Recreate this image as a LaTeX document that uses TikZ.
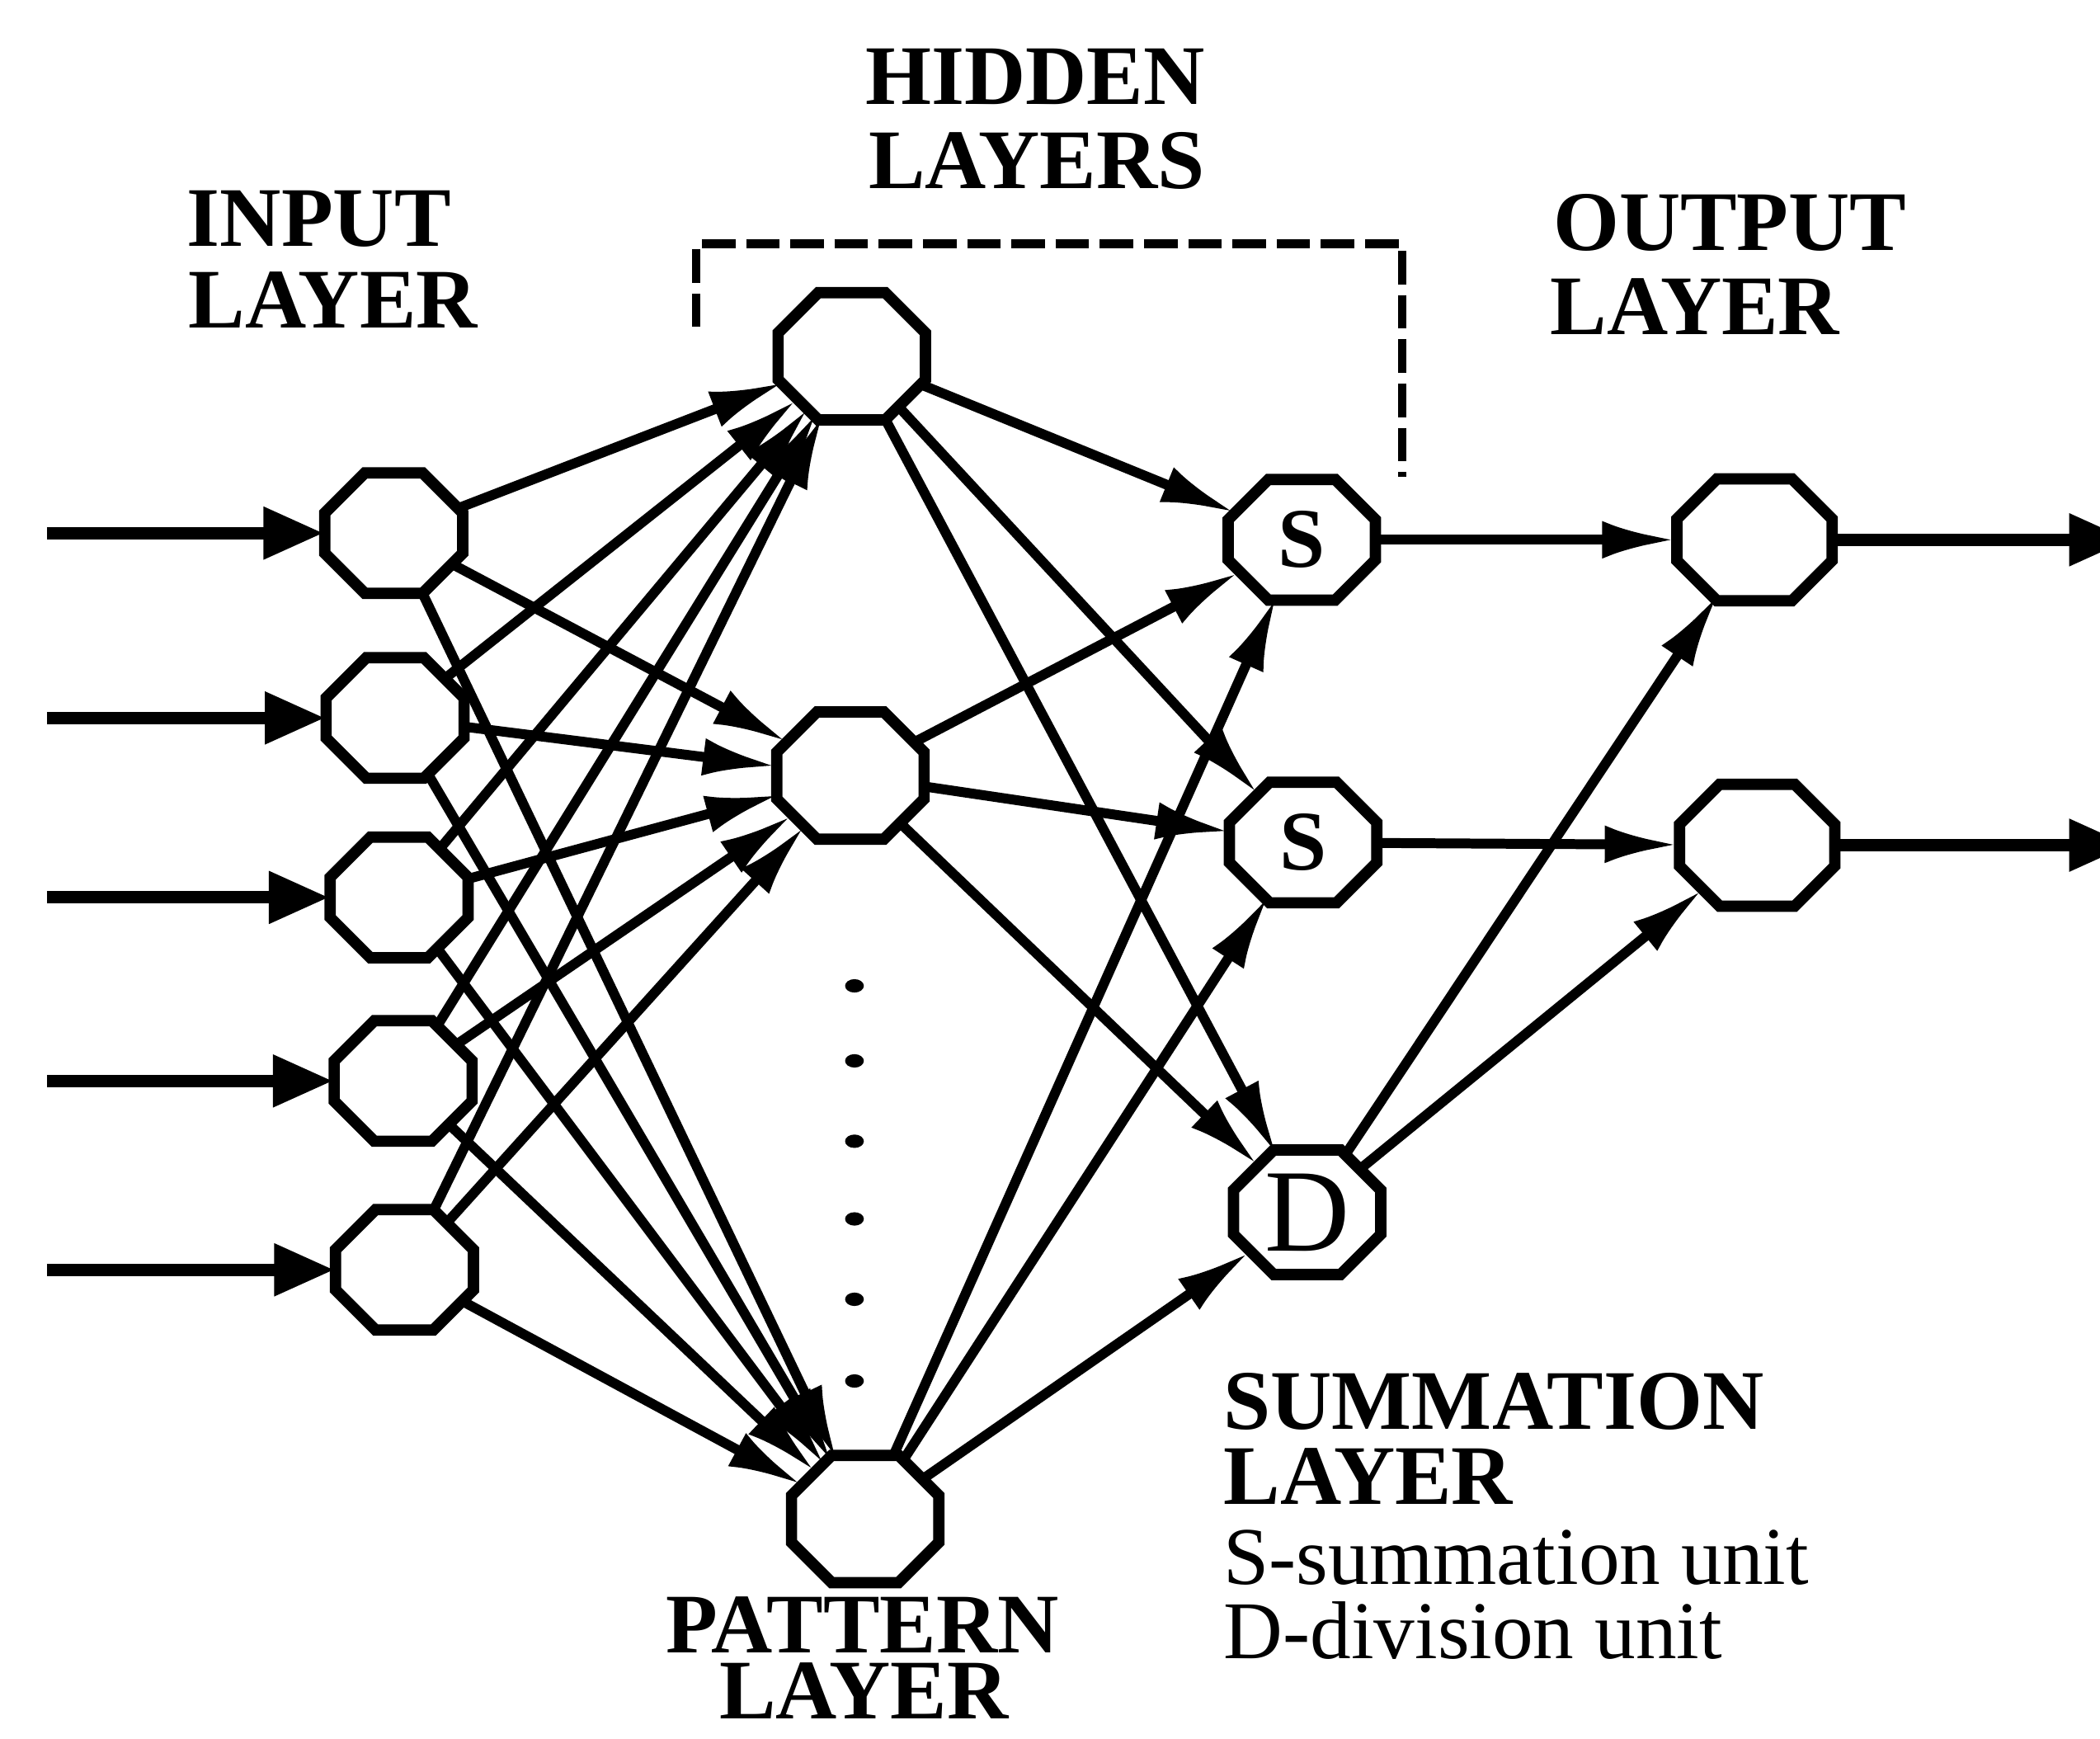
\documentclass[tikz,border=0pt]{standalone}
\usepackage{fontspec}
\setmainfont{Liberation Serif}
\usetikzlibrary{arrows.meta,shapes.geometric}
\begin{document}
\begin{tikzpicture}[x=0.01cm,y=-0.01cm,
  unitbase/.style={ellipse, draw=none, inner sep=0pt},
  inunit/.style={unitbase, minimum width=1.03cm, minimum height=0.90cm},
  patunit/.style={unitbase, minimum width=1.10cm, minimum height=0.95cm},
  sumunit/.style={unitbase, minimum width=1.10cm, minimum height=0.90cm},
  outunit/.style={unitbase, minimum width=1.16cm, minimum height=0.91cm},
  octline/.style={line width=2.4pt, line join=miter},
  conn/.style={line width=2.1pt, -{Latex[length=0.55cm,width=0.28cm]}},
  ioarrow/.style={line width=2.6pt, -{Triangle[length=0.45cm,width=0.37cm]}},
  bracketline/.style={line width=1.8pt, dash pattern=on 0.25cm off 0.08cm},
  hdr/.style={inner sep=0pt, font=\fontsize{18}{18}\selectfont\bfseries},
  subtxt/.style={inner sep=0pt, font=\fontsize{17.4}{18}\selectfont},
  unitletter/.style={font=\fontsize{18}{18}\selectfont\bfseries},
  dletter/.style={font=\fontsize{25}{25}\selectfont}
]
\useasboundingbox (0,0) rectangle (1568,1298);

% input layer
\node[inunit] (i1) at (294,398) {};
\node[inunit] (i2) at (295,536) {};
\node[inunit] (i3) at (298,670) {};
\node[inunit] (i4) at (301,807) {};
\node[inunit] (i5) at (302,948) {};
\coordinate (a1) at (35,398);
\coordinate (a2) at (35,536);
\coordinate (a3) at (35,670);
\coordinate (a4) at (35,807);
\coordinate (a5) at (35,948);

% pattern layer
\node[patunit] (p1) at (636,266) {};
\node[patunit] (p2) at (635,579) {};
\node[patunit] (p3) at (646,1134) {};

% summation layer
\node[sumunit, label={[unitletter]center:S}] (s1) at (972,403) {};
\node[sumunit, label={[unitletter]center:S}] (s2) at (973,629) {};
\node[sumunit, minimum height=0.93cm, label={[dletter]center:D}] (d) at (976,905) {};

% output layer
\node[outunit] (o1) at (1310,403) {};
\node[outunit] (o2) at (1312,631) {};
\coordinate (e1) at (1590,403);
\coordinate (e2) at (1590,631);

% octagonal outlines of the units
\foreach \n/\a/\b in {i1/51.5/45, i2/51.5/45, i3/51.5/45, i4/51.5/45, i5/51.5/45,
                      p1/55/47.5, p2/55/47.5, p3/55/47.5,
                      s1/55/45, s2/55/45, d/55/46.5,
                      o1/58/45.5, o2/58/45.5}
  \draw[octline, shift={(\n.center)}]
    (-\a+30,-\b) -- (\a-30,-\b) -- (\a,-\b+30) -- (\a,\b-30) --
    (\a-30,\b) -- (-\a+30,\b) -- (-\a,\b-30) -- (-\a,-\b+30) -- cycle;

% input arrows
\foreach \k in {1,...,5} \draw[ioarrow] (a\k) -- (i\k);
% output arrows
\draw[ioarrow] (o1) -- (e1);
\draw[ioarrow] (o2) -- (e2);

% input -> pattern
\foreach \a in {i1,i2,i3,i4,i5}
  \foreach \b in {p1,p2,p3}
    \draw[conn] (\a) -- (\b);

% pattern -> summation
\foreach \a in {p1,p2,p3}
  \foreach \b in {s1,s2,d}
    \draw[conn] (\a) -- (\b);

% summation -> output
\draw[conn] (s1) -- (o1);
\draw[conn] (s2) -- (o2);
\draw[conn] (d) -- (o1);
\draw[conn] (d) -- (o2);

% dots between pattern units
\foreach \yy in {736,792,852,910,970,1031}
  \fill (638,\yy) ellipse [x radius=0.07cm, y radius=0.05cm];

% dashed bracket for hidden layers
\coordinate (b1) at (520,244);
\coordinate (b2) at (520,182);
\coordinate (b3) at (1047,182);
\coordinate (b4) at (1047,356);
\draw[bracketline] (b1) -- (b2) -- (b3) -- (b4);

% labels
\node[hdr, anchor=base west] (inA) at (139,184) {INPUT};
\node[hdr, anchor=base west] (inB) at (140,245) {LAYER};
\node[hdr, anchor=base] (hidA) at (773,78) {HIDDEN};
\node[hdr, anchor=base] (hidB) at (774,141) {LAYERS};
\node[hdr, anchor=base west] (outA) at (1159,187) {OUTPUT};
\node[hdr, anchor=base west] (outB) at (1157,250) {LAYER};
\node[hdr, anchor=base] (patA) at (644,1234) {PATTERN};
\node[hdr, anchor=base] (patB) at (645,1283) {LAYER};
\node[hdr, anchor=base west] (sumA) at (913,1067) {SUMMATION};
\node[hdr, anchor=base west] (sumB) at (913,1123) {LAYER};
\node[subtxt, anchor=base west] (sumC) at (913,1183) {S-summation unit};
\node[subtxt, anchor=base west] (sumD) at (913,1238) {D-division unit};
\end{tikzpicture}
\end{document}
